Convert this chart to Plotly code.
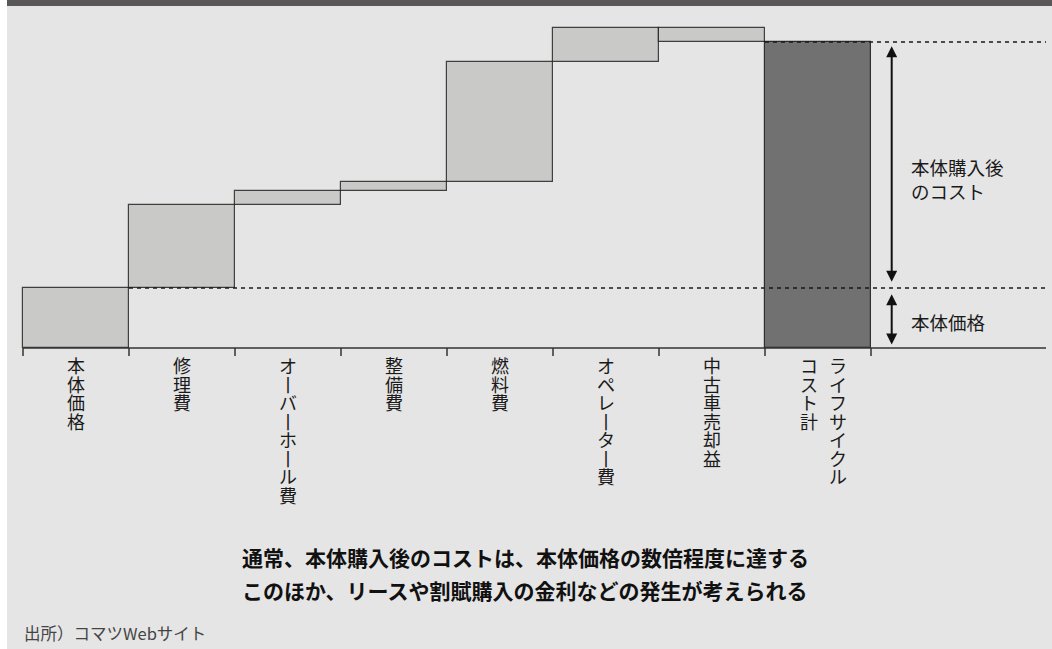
import plotly.graph_objects as go

# ---- data ----
categories = ["本体価格", "修理費", "オーバーホール費", "整備費", "燃料費", "オペレーター費", "中古車売却益"]
values = [100, 139, 23, 14, 201, 57, -24]
total_columns = ["ライフサイクル", "コスト計"]  # right column first (vertical writing)
side_labels = ["本体購入後<br>のコスト", "本体価格"]
notes = ["通常、本体購入後のコストは、本体価格の数倍程度に達する",
         "このほか、リースや割賦購入の金利などの発生が考えられる"]
source = "出所）コマツWebサイト"

# ---- layout geometry ----
W, H = 1052, 649
COL_PX = 106.0
X0_PX = 23.0
BASE_PX = 348.0
Y_PX = 0.6  # pixels per value unit
FONT = "Noto Sans CJK JP"

def xv(px):
    return -0.5 + (px - X0_PX) / COL_PX

bases = []
acc = 0
for v in values:
    bases.append(acc)
    acc += v
total = acc
n = len(values)

fig = go.Figure()
fig.add_trace(go.Bar(
    x=list(range(n)), y=values, base=bases, width=1,
    marker=dict(color="#c9cac8", line=dict(color="rgba(25,25,25,0.8)", width=1.2)),
    hoverinfo="skip", showlegend=False))
fig.add_trace(go.Bar(
    x=[n], y=[total], base=[0], width=1,
    marker=dict(color="#717171", line=dict(color="rgba(25,25,25,0.85)", width=1.2)),
    hoverinfo="skip", showlegend=False))

shapes = []
shapes.append(dict(type="rect", xref="paper", yref="paper", x0=7 / W, x1=1, y0=0, y1=1,
                   fillcolor="#e5e5e5", line=dict(width=0), layer="below"))
shapes.append(dict(type="rect", xref="paper", yref="paper", x0=7 / W, x1=1, y0=1 - 6 / H, y1=1,
                   fillcolor="#595757", line=dict(width=0), layer="above"))
x_end = xv(1046)
shapes.append(dict(type="line", xref="x", yref="y", x0=-0.5, x1=x_end, y0=0, y1=0,
                   line=dict(color="#333333", width=1.5)))
for k in range(n + 2):
    shapes.append(dict(type="line", xref="x", yref="y", x0=k - 0.5, x1=k - 0.5, y0=0, y1=-8 / Y_PX,
                       line=dict(color="#333333", width=1.5)))
shapes.append(dict(type="line", xref="x", yref="y", x0=0.5, x1=x_end, y0=values[0], y1=values[0],
                   line=dict(color="#1a1a1a", width=1.6, dash="4px,4px")))
shapes.append(dict(type="line", xref="x", yref="y", x0=n - 0.5, x1=x_end, y0=total, y1=total,
                   line=dict(color="#1a1a1a", width=1.6, dash="4px,4px")))

annotations = []

def vchars(s):
    return [("丨" if c == "ー" else c) for c in s]

PITCH = 18.5
FIRST = 17.5
def vlabel(x, text, xshift=0):
    for j, c in enumerate(vchars(text)):
        annotations.append(dict(x=x, y=0, xref="x", yref="y", text=c, showarrow=False,
                                yanchor="middle", xanchor="center", xshift=xshift,
                                yshift=-(FIRST + PITCH * j), height=PITCH, borderpad=0,
                                font=dict(family=FONT, size=18, color="#1a1a1a")))

for i, lab in enumerate(categories):
    vlabel(i, lab)
for lab, shift in zip(total_columns, [20, -9]):
    vlabel(n, lab, shift)

arrow_x = n + 0.5 + 20.7 / COL_PX
for (y_from, y_to) in [(values[0] + 8, total - 7), (values[0] - 8, 6)]:
    annotations.append(dict(x=arrow_x, y=y_to, ax=arrow_x, ay=y_from, xref="x", yref="y",
                            axref="x", ayref="y", text="", showarrow=True,
                            arrowhead=2, arrowside="end+start", arrowsize=1.1, arrowwidth=2,
                            arrowcolor="#111111", standoff=0, startstandoff=0))

annotations.append(dict(x=909 / W, y=1 - 179 / H, xref="paper", yref="paper",
                        text=side_labels[0], showarrow=False, xanchor="left", yanchor="middle",
                        align="left", font=dict(family=FONT, size=18.5, color="#1a1a1a")))
annotations.append(dict(x=909 / W, y=1 - 322 / H, xref="paper", yref="paper",
                        text=side_labels[1], showarrow=False, xanchor="left", yanchor="middle",
                        align="left", font=dict(family=FONT, size=18.5, color="#1a1a1a")))
for k, (txt, yc) in enumerate(zip(notes, [557, 590])):
    annotations.append(dict(x=525 / W, y=1 - yc / H, xref="paper", yref="paper",
                            text="<b>" + txt + "</b>", showarrow=False, xanchor="center",
                            yanchor="middle", font=dict(family=FONT, size=21, color="#111111")))
annotations.append(dict(x=22 / W, y=1 - 633 / H, xref="paper", yref="paper",
                        text=source, showarrow=False, xanchor="left", yanchor="middle",
                        font=dict(family=FONT, size=16.5, color="#444444")))

fig.update_layout(
    width=W, height=H,
    margin=dict(l=0, r=0, t=0, b=0),
    paper_bgcolor="white", plot_bgcolor="rgba(0,0,0,0)",
    xaxis=dict(range=[xv(0), xv(W)], visible=False, fixedrange=True),
    yaxis=dict(range=[(BASE_PX - H) / Y_PX, BASE_PX / Y_PX], visible=False, fixedrange=True),
    bargap=0, shapes=shapes, annotations=annotations, showlegend=False,
)
fig.write_html("out.html")
